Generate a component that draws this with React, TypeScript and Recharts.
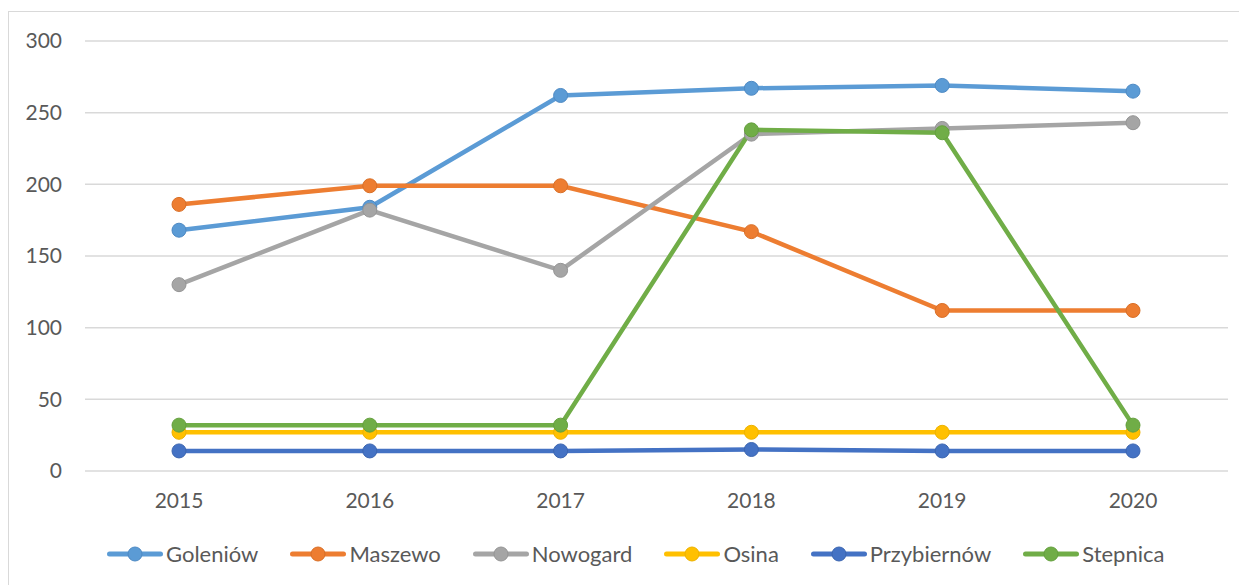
import React from "react";
import { LineChart, Line, XAxis, YAxis, CartesianGrid, Legend } from "recharts";

const years = ["2015", "2016", "2017", "2018", "2019", "2020"];
const golenow = [168, 184, 262, 267, 269, 265];
const maszewo = [186, 199, 199, 167, 112, 112];
const nowogard = [130, 182, 140, 235, 239, 243];
const osina = [27, 27, 27, 27, 27, 27];
const przybiernow = [14, 14, 14, 15, 14, 14];
const stepnica = [32, 32, 32, 238, 236, 32];
const yTicks = [0, 50, 100, 150, 200, 250, 300];

const seriesNames = ["Goleniów", "Maszewo", "Nowogard", "Osina", "Przybiernów", "Stepnica"];
const seriesValues = [golenow, maszewo, nowogard, osina, przybiernow, stepnica];
const colors = ["#5B9BD5", "#ED7D31", "#A5A5A5", "#FFC000", "#4472C4", "#70AD47"];
const strokes = ["#4E8AC4", "#D96F27", "#959595", "#EDB200", "#3B65B0", "#64A03D"];

const data = years.map((y, i) => {
  const row: Record<string, any> = { year: y };
  seriesNames.forEach((n, k) => (row[n] = seriesValues[k][i]));
  return row;
});

const FONT = "Lato, 'Open Sans', sans-serif";

const LegendContent = () => (
  <div style={{ display: "flex", alignItems: "center", fontFamily: FONT, fontSize: 22, color: "#595959", whiteSpace: "nowrap" }}>
    {seriesNames.map((n, k) => (
      <div key={n} style={{ display: "flex", alignItems: "center", marginRight: 32 }}>
        <svg width={56} height={16}>
          <line x1={2.5} y1={8} x2={53.5} y2={8} stroke={colors[k]} strokeWidth={5} strokeLinecap="round" />
          <circle cx={28} cy={8} r={7} fill={colors[k]} stroke={strokes[k]} strokeWidth={1} />
        </svg>
        <span style={{ marginLeft: 3 }}>{n}</span>
      </div>
    ))}
  </div>
);

export default function App() {
  return (
    <div style={{ marginTop: 3, width: 1245, height: 580, border: "1px solid #d9d9d9", borderRight: "none", borderBottom: "none", position: "relative", background: "#fff" }}>
      <LineChart width={1236} height={572} data={data} margin={{ top: 29, right: 17, left: 0, bottom: 57 }}>
        <CartesianGrid vertical={false} stroke="#d9d9d9" strokeWidth={1.5} />
        <XAxis
          dataKey="year"
          axisLine={false}
          tickLine={false}
          tickSize={0}
          tickMargin={22}
          height={30}
          padding={{ left: 94, right: 95 }}
          tick={{ fill: "#595959", fontSize: 21, fontFamily: FONT }}
        />
        <YAxis
          domain={[0, 300]}
          ticks={yTicks}
          axisLine={false}
          tickLine={false}
          tickSize={0}
          tickMargin={23}
          width={76}
          tick={{ fill: "#595959", fontSize: 21, fontFamily: FONT }}
        />
        <Legend
          content={<LegendContent />}
          wrapperStyle={{ position: "absolute", left: 98, top: 528, width: 1130, height: 26 }}
        />
        {seriesNames.map((n, k) => (
          <Line
            key={n}
            dataKey={n}
            type="linear"
            stroke={colors[k]}
            strokeWidth={4.5}
            dot={{ r: 7, fill: colors[k], stroke: strokes[k], strokeWidth: 1 }}
            activeDot={false}
            isAnimationActive={false}
          />
        ))}
      </LineChart>
    </div>
  );
}
